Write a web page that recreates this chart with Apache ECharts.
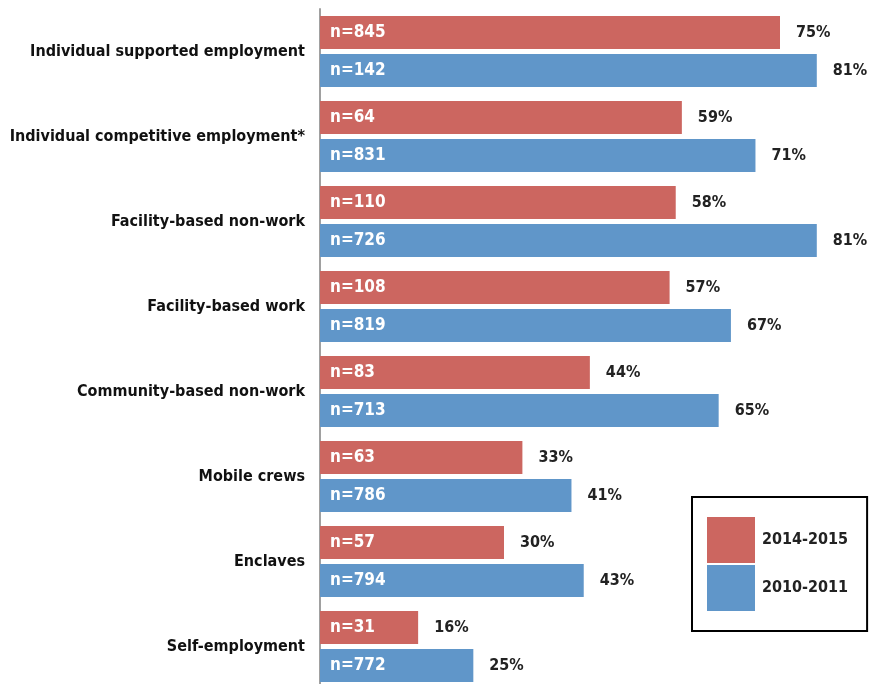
<!DOCTYPE html>
<html>
<head>
<meta charset="utf-8">
<script src="https://cdn.jsdelivr.net/npm/echarts@6/dist/echarts.min.js"></script>
<style>
  html, body { margin: 0; padding: 0; background: #fff; }
  #chart { width: 876px; height: 684px; }
</style>
</head>
<body>
<div id="chart"></div>
<script>
const categories = [
  "Individual supported employment",
  "Individual competitive employment*",
  "Facility-based non-work",
  "Facility-based work",
  "Community-based non-work",
  "Mobile crews",
  "Enclaves",
  "Self-employment"
];
const pct2014 = [75, 59, 58, 57, 44, 33, 30, 16];
const n2014 = [845, 64, 110, 108, 83, 63, 57, 31];
const pct2010 = [81, 71, 81, 67, 65, 41, 43, 25];
const n2010 = [142, 831, 726, 819, 713, 786, 794, 772];

const FONT = '"DejaVu Sans Condensed", "Liberation Sans", sans-serif';
const RED = "#cc6660";
const BLUE = "#6096c9";

let chart = echarts.init(document.getElementById("chart"));

function barSeries(name, color, pcts, ns, stack) {
  return {
    name: name,
    type: "bar",
    stack: stack,
    barWidth: 33,
    barGap: "15%",
    itemStyle: { color: color },
    label: {
      show: true,
      position: "insideLeft",
      distance: 10,
      color: "#fff",
      fontFamily: FONT,
      fontSize: 17,
      fontWeight: "bold",
      formatter: p => "n=" + ns[p.dataIndex]
    },
    data: pcts
  };
}

// zero-length bars stacked on the end of each real bar, carrying the % label
function pctSeries(name, pcts, stack) {
  return {
    name: name,
    type: "bar",
    stack: stack,
    barWidth: 33,
    barGap: "15%",
    itemStyle: { color: "transparent" },
    silent: true,
    label: {
      show: true,
      position: "right",
      distance: 16,
      color: "#222",
      fontFamily: FONT,
      fontSize: 16,
      fontWeight: "bold",
      formatter: p => pcts[p.dataIndex] + "%"
    },
    data: pcts.map(() => 0)
  };
}

let option = {
  animation: false,
  grid: { left: 320, top: 9, width: 552, height: 680, outerBoundsMode: "none" },
  legend: {
    data: ["2014-2015", "2010-2011"],
    orient: "vertical",
    left: 692,
    top: 497,
    padding: [20, 19, 20, 15],
    icon: "rect",
    itemWidth: 48,
    itemHeight: 46,
    itemGap: 2,
    borderColor: "#000",
    borderWidth: 2,
    textStyle: { fontFamily: FONT, fontSize: 16, fontWeight: "bold", color: "#222", padding: [0, 0, 0, 2] }
  },
  xAxis: {
    type: "value",
    min: 0,
    max: 90,
    show: false
  },
  yAxis: {
    type: "category",
    inverse: true,
    data: categories,
    axisLine: { lineStyle: { color: "#a0a0a0", width: 2 } },
    axisTick: { show: false },
    axisLabel: {
      margin: 15,
      color: "#111",
      fontFamily: FONT,
      fontSize: 16,
      fontWeight: "bold"
    }
  },
  series: [
    barSeries("2014-2015", RED, pct2014, n2014, "a"),
    pctSeries("pa", pct2014, "a"),
    barSeries("2010-2011", BLUE, pct2010, n2010, "b"),
    pctSeries("pb", pct2010, "b")
  ]
};

chart.setOption(option);
</script>
</body>
</html>
